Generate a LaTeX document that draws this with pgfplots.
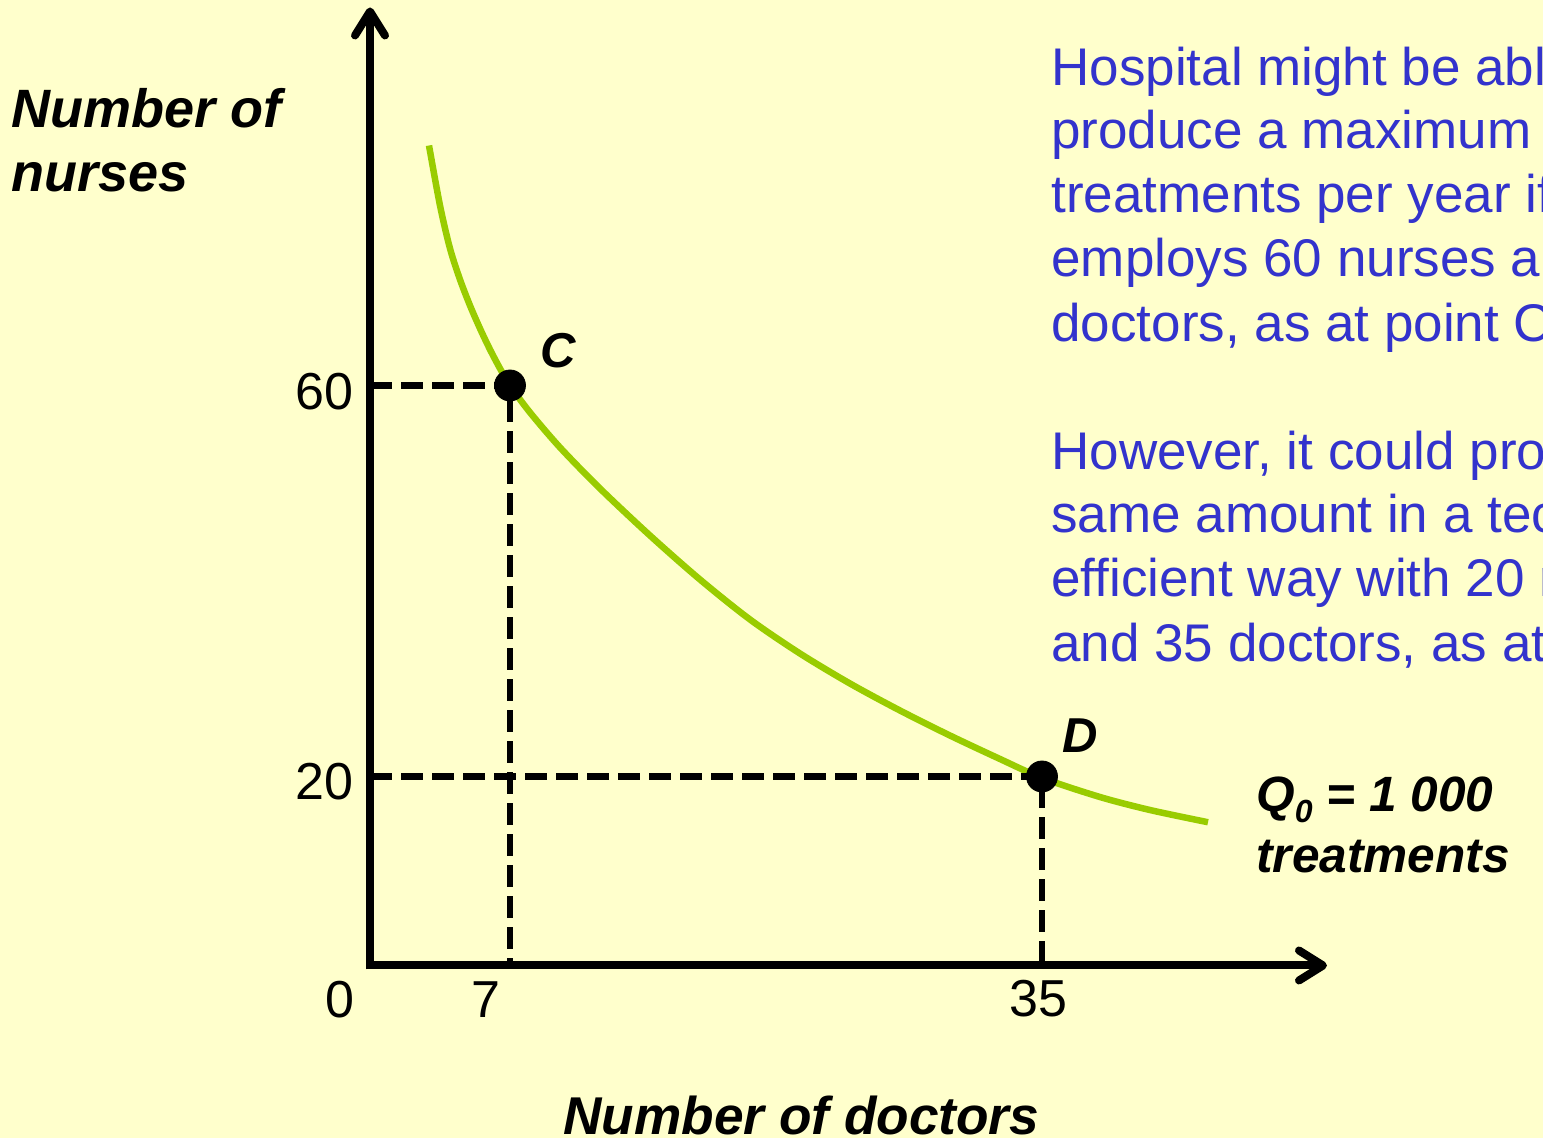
\documentclass[border=0pt]{standalone}
\usepackage{pgfplots}
\pgfplotsset{compat=1.18}
\usepackage{fontspec}
\setmainfont{Liberation Sans}
\usetikzlibrary{arrows.meta}
\definecolor{bgyellow}{RGB}{255,255,204}
\definecolor{txtblue}{RGB}{51,51,204}
\definecolor{curvegreen}{RGB}{153,204,0}
\begin{document}
\begin{tikzpicture}
\useasboundingbox (0,0) rectangle (771.5pt,569pt);
\clip (0,0) rectangle (771.5pt,569pt);
\fill[bgyellow] (0,0) rectangle (771.5pt,569pt);
\begin{axis}[
  at={(185pt,86.25pt)}, anchor=south west,
  x=9.5pt, y=4.8875pt,
  xmin=-0.368, xmax=50, ymin=0.665, ymax=98.67,
  axis lines=left,
  axis line style={line width=4pt, -{Straight Barb[length=12pt,width=15pt,round]}, shorten <=-2pt},
  xtick=\empty, ytick=\empty,
  clip=false,
]
\addplot[curvegreen, line width=3.25pt, smooth, tension=0.5] coordinates {
 (2.737,84.55) (3.316,78.41) (3.842,74.02) (4.368,70.84) (4.895,68.18)
 (5.421,65.83) (5.947,63.68) (6.474,61.74) (7,60) (8.053,57.24)
 (9.632,53.66) (11.737,49.46) (14.368,44.65) (17.0,40.15) (19.632,36.06)
 (22.263,32.58) (24.895,29.51) (27.526,26.75) (30.158,24.19) (32.789,21.79)
 (35,19.86) (38.053,17.90) (40.684,16.57) (43.737,15.32)
};
\addplot[black, line width=3.4pt, dash pattern=on 11pt off 4.5pt] coordinates {(-0.368,60) (7,60) (7,0.665)};
\addplot[black, line width=3.4pt, dash pattern=on 11pt off 4.5pt] coordinates {(-0.368,20) (35,20) (35,0.665)};
\addplot[only marks, mark=*, mark size=7.75pt, black] coordinates {(7,60) (35,20)};
\end{axis}
% axis titles
\node[anchor=base west, inner sep=0, font=\fontsize{27}{32}\selectfont\bfseries\itshape] at (5.5pt,505pt) {Number of};
\node[anchor=base west, inner sep=0, font=\fontsize{27}{32}\selectfont\bfseries\itshape] at (5.5pt,473pt) {nurses};
\node[anchor=base west, inner sep=0, font=\fontsize{26.6}{32}\selectfont\bfseries\itshape] at (281.5pt,1.5pt) {Number of doctors};
% tick labels
\node[anchor=base east, inner sep=0, font=\fontsize{26}{30}\selectfont] at (177pt,364pt) {60};
\node[anchor=base east, inner sep=0, font=\fontsize{26}{30}\selectfont] at (177pt,169pt) {20};
\node[anchor=base, inner sep=0, font=\fontsize{26}{30}\selectfont] at (170pt,60pt) {0};
\node[anchor=base, inner sep=0, font=\fontsize{26}{30}\selectfont] at (243pt,60pt) {7};
\node[anchor=base, inner sep=0, font=\fontsize{26}{30}\selectfont] at (519pt,60.5pt) {35};
% point labels
\node[anchor=base west, inner sep=0, font=\fontsize{24.5}{30}\selectfont\bfseries\itshape] at (270pt,385pt) {C};
\node[anchor=base west, inner sep=0, font=\fontsize{24.5}{30}\selectfont\bfseries\itshape] at (531pt,192.5pt) {D};
% curve label
\node[anchor=base west, inner sep=0, font=\fontsize{24.8}{30}\selectfont\bfseries\itshape] at (628pt,163pt) {Q\raisebox{-0.22em}{\fontsize{16}{16}\selectfont 0} = 1 000};
\node[anchor=base west, inner sep=0, font=\fontsize{24.8}{30}\selectfont\bfseries\itshape] at (628pt,132.5pt) {treatments};
% blue text
\begin{scope}[every node/.style={anchor=base west, inner sep=0, text=txtblue, font=\fontsize{26.5}{32}\selectfont}]
\node at (525.5pt,526pt) {Hospital might be able to};
\node at (525.5pt,494.5pt) {produce a maximum of 1 000};
\node at (525.5pt,462.5pt) {treatments per year if it};
\node at (525.5pt,430.5pt) {employs 60 nurses and 7};
\node at (525.5pt,398pt) {doctors, as at point C.};
\node at (525.5pt,334pt) {However, it could produce the};
\node at (525.5pt,302.5pt) {same amount in a technically};
\node at (525.5pt,270.5pt) {efficient way with 20 nurses};
\node at (525.5pt,238pt) {and 35 doctors, as at point D.};
\end{scope}
\end{tikzpicture}
\end{document}
